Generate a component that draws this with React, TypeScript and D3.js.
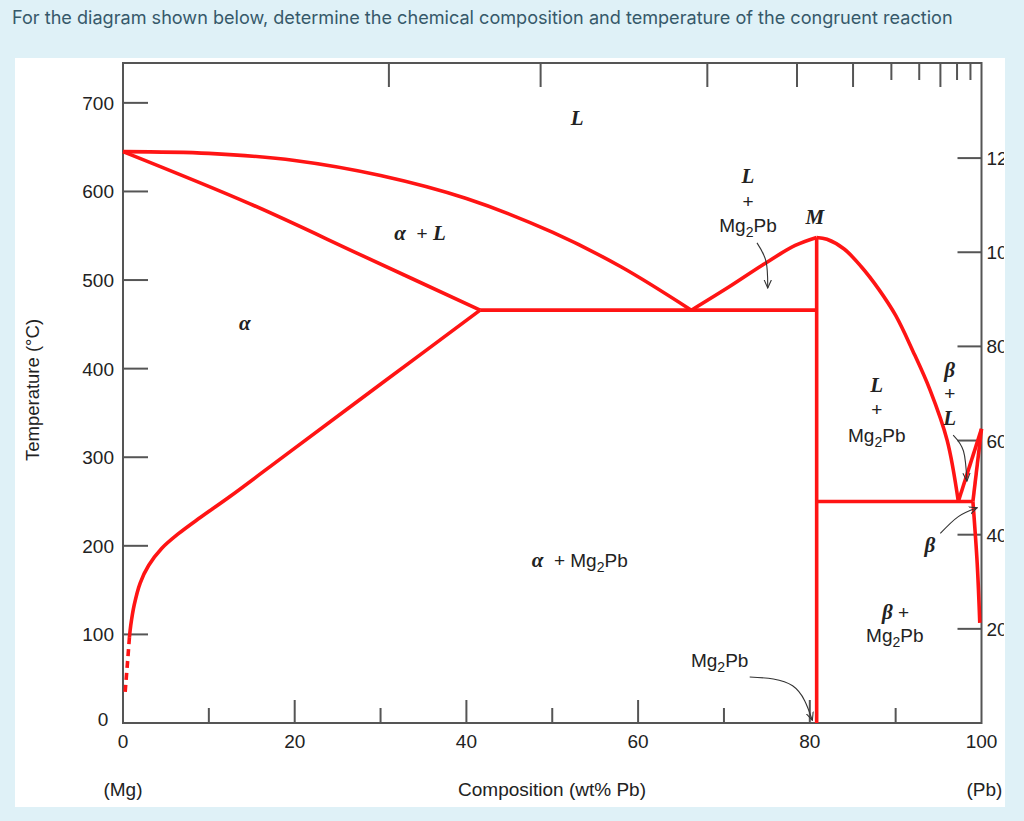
import React from 'react';
import * as d3 from 'd3';

const TITLE = 'For the diagram shown below, determine the chemical composition and temperature of the congruent reaction';

const xTicks = [0, 20, 40, 60, 80, 100];
const xMinorTicks = [10, 30, 50, 70, 90];
const yTicks = [100, 200, 300, 400, 500, 600, 700];
const fTicks = [200, 400, 600, 800, 1000, 1200];
const atTicksLong = [5, 10, 20, 30, 40, 70];
const atTicksShort = [50, 60, 80, 90];

// phase boundaries: [wt% Pb, °C]
const liquidusMg: [number, number][] = [[0, 645], [10, 643], [20, 635], [30, 618], [40, 592], [50, 554], [58, 515], [66.2, 466]];
const solidusAlpha: [number, number][] = [[0, 645], [14.8, 586], [28, 527], [41.6, 466]];
const solvusAlpha: [number, number][] = [[41.6, 466], [30.5, 386], [19, 303], [12.5, 256], [9, 232], [6.5, 214], [4.5, 197], [3, 178], [2, 158], [1.3, 133], [0.9, 110], [0.75, 97]];
const solvusAlphaDashed: [number, number][] = [[0.75, 97], [0.5, 65], [0.25, 35]];
const liquidusMg2PbLeft: [number, number][] = [[66.2, 466], [70.7, 493], [74.5, 517], [78.3, 539], [80.8, 548]];
const liquidusMg2PbRight: [number, number][] = [[80.8, 548], [82, 546], [84, 535], [86, 515], [88, 490], [90, 460], [92, 420], [94, 376], [96, 319], [97.3, 250]];
const eutectic1: [number, number][] = [[41.6, 466], [80.8, 466]];
const eutectic2: [number, number][] = [[80.8, 250], [99.0, 250]];
const mg2pbLine: [number, number][] = [[80.8, 0], [80.8, 548]];
const liquidusPb: [number, number][] = [[97.3, 250], [100, 332]];
const solidusBeta: [number, number][] = [[100, 332], [99.0, 250]];
const solvusBeta: [number, number][] = [[99.0, 250], [99.5, 180], [99.8, 113]];

// arrows: [start, control, end]
const arrows: [number, number][][] = [
  [[73.85, 542], [74.9, 521], [75.1, 491]],
  [[96.7, 325], [97.9, 307], [98.3, 273]],
  [[95.2, 214], [97.3, 233], [99.5, 243]],
  [[73.0, 52], [78.0, 42], [80.3, 3]],
];

type Label = { x: number; t: number; parts: { s: string; kind: 'sym' | 'sans' | 'sub' | 'plus' }[] };
const labels: Label[] = [
  { x: 52.9, t: 683, parts: [{ s: 'L', kind: 'sym' }] },
  { x: 72.8, t: 617, parts: [{ s: 'L', kind: 'sym' }] },
  { x: 72.8, t: 589, parts: [{ s: '+', kind: 'plus' }] },
  { x: 72.8, t: 562, parts: [{ s: 'Mg', kind: 'sans' }, { s: '2', kind: 'sub' }, { s: 'Pb', kind: 'sans' }] },
  { x: 80.6, t: 571, parts: [{ s: 'M', kind: 'sym' }] },
  { x: 34.6, t: 553, parts: [{ s: 'α', kind: 'sym' }, { s: '  + ', kind: 'plus' }, { s: 'L', kind: 'sym' }] },
  { x: 14.2, t: 451, parts: [{ s: 'α', kind: 'sym' }] },
  { x: 53.2, t: 184, parts: [{ s: 'α', kind: 'sym' }, { s: '  + ', kind: 'plus' }, { s: 'Mg', kind: 'sans' }, { s: '2', kind: 'sub' }, { s: 'Pb', kind: 'sans' }] },
  { x: 87.8, t: 381, parts: [{ s: 'L', kind: 'sym' }] },
  { x: 87.8, t: 354, parts: [{ s: '+', kind: 'plus' }] },
  { x: 87.8, t: 325, parts: [{ s: 'Mg', kind: 'sans' }, { s: '2', kind: 'sub' }, { s: 'Pb', kind: 'sans' }] },
  { x: 96.3, t: 398, parts: [{ s: 'β', kind: 'sym' }] },
  { x: 96.3, t: 372, parts: [{ s: '+', kind: 'plus' }] },
  { x: 96.3, t: 344, parts: [{ s: 'L', kind: 'sym' }] },
  { x: 94.0, t: 201, parts: [{ s: 'β', kind: 'sym' }] },
  { x: 90.0, t: 125, parts: [{ s: 'β', kind: 'sym' }, { s: ' +', kind: 'plus' }] },
  { x: 89.9, t: 99, parts: [{ s: 'Mg', kind: 'sans' }, { s: '2', kind: 'sub' }, { s: 'Pb', kind: 'sans' }] },
  { x: 69.5, t: 71, parts: [{ s: 'Mg', kind: 'sans' }, { s: '2', kind: 'sub' }, { s: 'Pb', kind: 'sans' }] },
];

const SANS = '"Liberation Sans", Arial, sans-serif';
const SERIF = '"Liberation Serif", "Times New Roman", serif';
const RED = '#ff1414';
const AXIS = '#555';

export default function App() {
  const W = 1024, H = 821;
  const left = 123, right = 981.5, top = 63, bottom = 723;
  const x = d3.scaleLinear().domain([0, 100]).range([left, right]);
  const y = d3.scaleLinear().domain([0, 745]).range([bottom, top]);
  const yF = d3.scaleLinear().domain([0, 1402]).range([bottom, top]);
  const atToWt = (a: number) => (a * 207.2) / (a * 207.2 + (100 - a) * 24.305) * 100;

  const smooth = d3.line<[number, number]>().x(d => x(d[0])).y(d => y(d[1])).curve(d3.curveCatmullRom.alpha(0.5));
  const straight = d3.line<[number, number]>().x(d => x(d[0])).y(d => y(d[1]));
  const arrowLine = d3.line<[number, number]>().x(d => x(d[0])).y(d => y(d[1])).curve(d3.curveNatural);

  const redPaths = [
    smooth(liquidusMg), smooth(solidusAlpha), smooth(solvusAlpha),
    smooth(liquidusMg2PbLeft), smooth(liquidusMg2PbRight),
    straight(eutectic1), straight(eutectic2), straight(mg2pbLine),
    straight(liquidusPb), straight(solidusBeta), smooth(solvusBeta),
  ];

  return (
    <svg width={W} height={H} style={{ position: 'absolute', left: 0, top: 0 }}>
      <defs>
        <marker id="ah" viewBox="0 0 10 10" refX="9" refY="5" markerWidth="9" markerHeight="9" orient="auto-start-reverse" markerUnits="userSpaceOnUse">
          <path d="M0,1 L9,5 L0,9" fill="none" stroke="#333" strokeWidth={1.2} />
        </marker>
        <clipPath id="panel"><rect x={15} y={58} width={989} height={749} /></clipPath>
      </defs>
      <rect x={0} y={0} width={W} height={H} fill="#dff1f7" />
      <text x={12} y={24} fontFamily='Inter, "Open Sans", sans-serif' fontSize={18.1} fill="#36596a">{TITLE}</text>
      <rect x={15} y={58} width={990} height={749} fill="#fff" />
      <g clipPath="url(#panel)">
        <rect x={left} y={top} width={right - left} height={bottom - top} fill="none" stroke={AXIS} strokeWidth={2} />
        {xTicks.slice(1, -1).map(v => <line key={'bx' + v} x1={x(v)} x2={x(v)} y1={bottom} y2={bottom - 23} stroke={AXIS} strokeWidth={2} />)}
        {xMinorTicks.map(v => <line key={'bm' + v} x1={x(v)} x2={x(v)} y1={bottom} y2={bottom - 15} stroke={AXIS} strokeWidth={2} />)}
        {xTicks.map(v => (
          <text key={'bl' + v} x={x(v)} y={bottom + 25} textAnchor="middle" fontFamily={SANS} fontSize={19} fill="#222">{v}</text>
        ))}
        {yTicks.map(v => <line key={'ly' + v} x1={left} x2={left + 25} y1={y(v)} y2={y(v)} stroke={AXIS} strokeWidth={2} />)}
        {yTicks.map(v => (
          <text key={'ll' + v} x={left - 9} y={y(v) + 7} textAnchor="end" fontFamily={SANS} fontSize={19} fill="#222">{v}</text>
        ))}
        <text x={left - 20} y={bottom + 3} textAnchor="middle" fontFamily={SANS} fontSize={19} fill="#222">0</text>
        {atTicksLong.map(a => <line key={'tl' + a} x1={x(atToWt(a))} x2={x(atToWt(a))} y1={top} y2={top + 24} stroke={AXIS} strokeWidth={2} />)}
        {atTicksShort.map(a => <line key={'ts' + a} x1={x(atToWt(a))} x2={x(atToWt(a))} y1={top} y2={top + 17} stroke={AXIS} strokeWidth={2} />)}
        {fTicks.map(v => <line key={'rf' + v} x1={right} x2={right - 24} y1={yF(v)} y2={yF(v)} stroke={AXIS} strokeWidth={2} />)}
        {fTicks.map(v => (
          <text key={'rl' + v} x={right + 5} y={yF(v) + 7} fontFamily={SANS} fontSize={19} fill="#222">{v}</text>
        ))}
        <text transform={`translate(39,${390}) rotate(-90)`} textAnchor="middle" fontFamily={SANS} fontSize={18.5} fill="#222">Temperature (°C)</text>
        <text x={552} y={796} textAnchor="middle" fontFamily={SANS} fontSize={19} fill="#222">Composition (wt% Pb)</text>
        <text x={x(0)} y={796} textAnchor="middle" fontFamily={SANS} fontSize={19} fill="#222">(Mg)</text>
        <text x={x(100) + 3} y={796} textAnchor="middle" fontFamily={SANS} fontSize={19} fill="#222">(Pb)</text>
        {redPaths.map((d, i) => <path key={'r' + i} d={d || ''} fill="none" stroke={RED} strokeWidth={3.6} strokeLinejoin="round" />)}
        <path d={straight(solvusAlphaDashed) || ''} fill="none" stroke={RED} strokeWidth={3.6} strokeDasharray="7,5" />
        {arrows.map((a, i) => <path key={'a' + i} d={arrowLine(a) || ''} fill="none" stroke="#333" strokeWidth={1.1} markerEnd="url(#ah)" />)}
        {labels.map((l, i) => (
          <text key={'lb' + i} x={x(l.x)} y={y(l.t) + 7} textAnchor="middle" fill="#222">
            {l.parts.map((p, j) => {
              if (p.kind === 'sym') return <tspan key={j} fontFamily={SERIF} fontStyle="italic" fontWeight="bold" fontSize={21}>{p.s}</tspan>;
              if (p.kind === 'plus') return <tspan key={j} fontFamily={SANS} fontSize={19} style={{ whiteSpace: 'pre' }}>{p.s}</tspan>;
              if (p.kind === 'sub') return <tspan key={j} fontFamily={SANS} fontSize={14} dy={5}>{p.s}</tspan>;
              return <tspan key={j} fontFamily={SANS} fontSize={19} dy={j > 0 && l.parts[j - 1].kind === 'sub' ? -5 : 0}>{p.s}</tspan>;
            })}
          </text>
        ))}
      </g>
    </svg>
  );
}
